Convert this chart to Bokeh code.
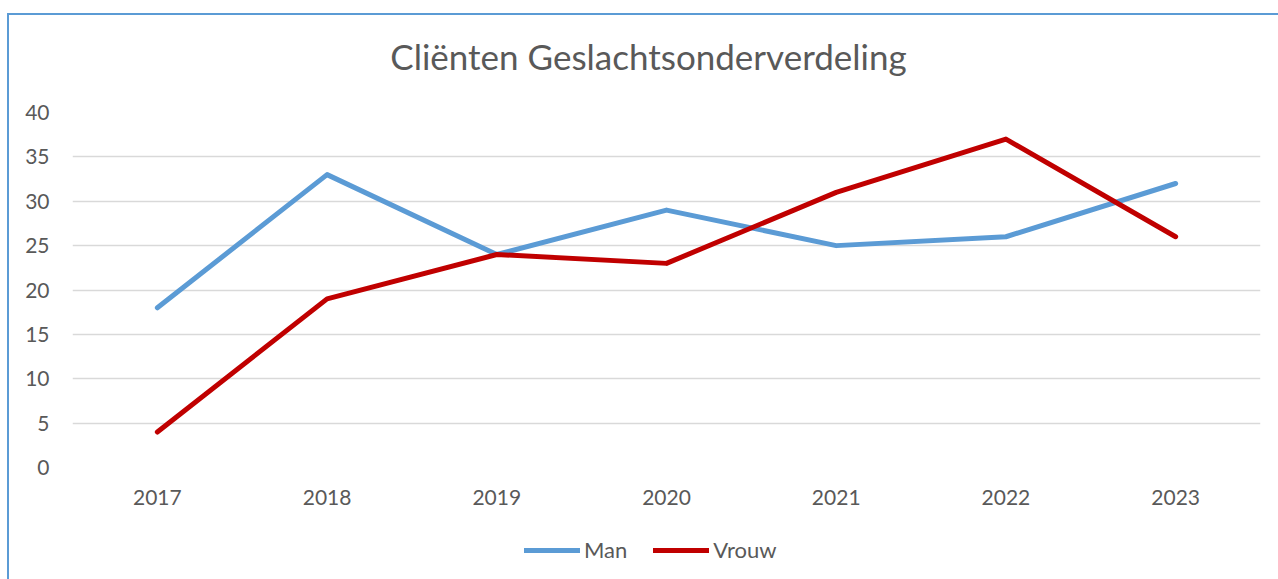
from bokeh.plotting import figure
from bokeh.layouts import column
from bokeh.models import (FactorRange, Range1d, Legend, LegendItem, SingleIntervalTicker,
                          ColumnDataSource, Div)
from bokeh.embed import file_html
from bokeh.resources import INLINE

title_text = "Cliënten Geslachtsonderverdeling"
years = ["2017", "2018", "2019", "2020", "2021", "2022", "2023"]
man = [18, 33, 24, 29, 25, 26, 32]
vrouw = [4, 19, 24, 23, 31, 37, 26]
series_names = ["Man", "Vrouw"]
series_colors = ["#5B9BD5", "#C00000"]

FONT = "Lato"
TXT = "#595959"

src = ColumnDataSource(dict(year=years, Man=man, Vrouw=vrouw))

title = Div(text=f'<div style="font-family:Lato; font-size:35px; color:{TXT}; '
                 f'text-align:center; line-height:66px; width:1269px; position:relative; top:3px;">{title_text}</div>',
            width=1269, height=66)

p = figure(width=1269, height=429, output_backend="svg", toolbar_location=None,
           x_range=FactorRange(*years, range_padding=0), y_range=Range1d(0, 40),
           min_border_left=63, min_border_right=18, min_border_top=21, min_border_bottom=53)

for name, col in zip(series_names, series_colors):
    p.line("year", name, source=src, line_color=col, line_width=5, line_cap="round", line_join="round")

p.outline_line_color = None
p.xgrid.grid_line_color = None
p.ygrid.grid_line_color = "#D9D9D9"
p.ygrid.grid_line_width = 1.5
p.yaxis.ticker = SingleIntervalTicker(interval=5)
for ax in (p.xaxis, p.yaxis):
    ax.axis_line_color = None
    ax.major_tick_line_color = None
    ax.minor_tick_line_color = None
    ax.major_label_text_font = FONT
    ax.major_label_text_font_size = "21px"
    ax.major_label_text_color = TXT
p.yaxis.major_label_standoff = 17
p.xaxis.major_label_standoff = 16

# legend strip below the chart (series drawn hidden so the legend shows their line style)
p2 = figure(width=1269, height=59, output_backend="svg", toolbar_location=None,
            x_range=FactorRange(*years), y_range=Range1d(0, 40),
            x_axis_location=None, y_axis_location=None,
            min_border_left=0, min_border_right=0, min_border_top=0, min_border_bottom=0)
p2.grid.grid_line_color = None
p2.outline_line_color = None
items = []
for name, col in zip(series_names, series_colors):
    r = p2.line("year", name, source=src, line_color=col, line_width=5, line_cap="round", visible=False)
    items.append(LegendItem(label=name, renderers=[r]))
legend = Legend(items=items, orientation="horizontal", location=(452, 16),
                label_text_font=FONT, label_text_font_size="22px", label_text_color=TXT,
                glyph_width=56, glyph_height=22, label_standoff=4, spacing=26,
                border_line_color=None, background_fill_alpha=0, padding=0, margin=0)
p2.add_layout(legend, "center")

layout = column(title, p, p2, spacing=0)
layout.styles = {"border-left": "2px solid #5B9BD5", "border-top": "2px solid #5B9BD5",
                 "margin-top": "13px", "margin-left": "7px"}

open("out.html", "w").write(file_html(layout, INLINE))
